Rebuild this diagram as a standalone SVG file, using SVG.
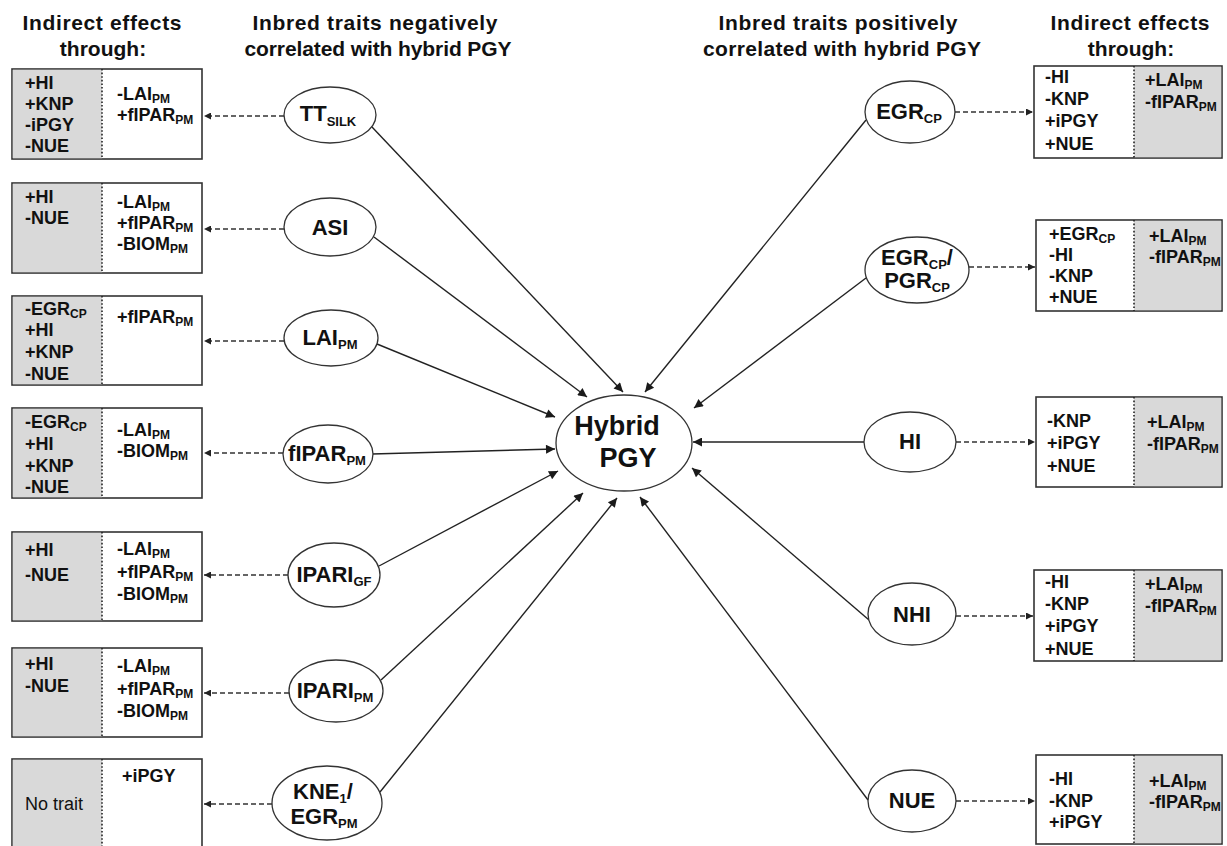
<svg xmlns="http://www.w3.org/2000/svg" width="1227" height="846" viewBox="0 0 1227 846">
<style>
text{font-family:"Liberation Sans",Arial,sans-serif;font-weight:bold;fill:#111}
.h{font-size:21px}
.t{font-size:18px}
.s{font-size:12px}
.r{font-weight:normal}
.nt{font-size:22px;text-anchor:middle}
.ns{font-size:13px}
.box{fill:#fff;stroke:#333;stroke-width:1.6}
.g{fill:#d9d9d9}
.dv{stroke:#222;stroke-width:1.6;stroke-dasharray:1.6,2}
.el{fill:#fff;stroke:#333;stroke-width:1.3}
.ln{stroke:#222;stroke-width:1.4;fill:none;marker-end:url(#ah)}
.ds{stroke:#333;stroke-width:1.5;fill:none;stroke-dasharray:5,3;marker-end:url(#ah2)}
</style>
<defs>
<marker id="ah" viewBox="0 0 10 10" refX="10" refY="5" markerWidth="12" markerHeight="9" markerUnits="userSpaceOnUse" orient="auto"><path d="M0,0L10,5L0,10z" fill="#1a1a1a"/></marker>
<marker id="ah2" viewBox="0 0 10 10" refX="10" refY="5" markerWidth="8" markerHeight="7" markerUnits="userSpaceOnUse" orient="auto"><path d="M0,0L10,5L0,10z" fill="#222"/></marker>
</defs>
<rect width="1227" height="846" fill="#fff"/>

<g id="headers">
<text class="h" x="102" y="30" text-anchor="middle" textLength="159">Indirect effects</text>
<text class="h" x="103" y="56" text-anchor="middle">through:</text>
<text class="h" x="375" y="30" text-anchor="middle" textLength="245">Inbred traits negatively</text>
<text class="h" x="378" y="56" text-anchor="middle" textLength="267">correlated with hybrid PGY</text>
<text class="h" x="838" y="30" text-anchor="middle" textLength="239">Inbred traits positively</text>
<text class="h" x="842" y="56" text-anchor="middle" textLength="278">correlated with hybrid PGY</text>
<text class="h" x="1130" y="30" text-anchor="middle" textLength="159">Indirect effects</text>
<text class="h" x="1131" y="56" text-anchor="middle">through:</text>
</g>

<g id="connectors">
<line class="ln" x1="372" y1="127" x2="623" y2="392"/>
<line class="ln" x1="374" y1="237" x2="587" y2="397"/>
<line class="ln" x1="377" y1="344" x2="555" y2="417"/>
<line class="ln" x1="372" y1="454" x2="555" y2="449"/>
<line class="ln" x1="379" y1="566" x2="558" y2="471"/>
<line class="ln" x1="381" y1="680" x2="583" y2="493"/>
<line class="ln" x1="380" y1="792" x2="617" y2="498"/>
<line class="ln" x1="866" y1="120" x2="645" y2="392"/>
<line class="ln" x1="866" y1="278" x2="694" y2="408"/>
<line class="ln" x1="864" y1="442" x2="693" y2="442"/>
<line class="ln" x1="869" y1="620" x2="692" y2="468"/>
<line class="ln" x1="868" y1="800" x2="640" y2="497"/>
<line class="ds" x1="284" y1="116" x2="204" y2="116"/>
<line class="ds" x1="284" y1="229" x2="204" y2="229"/>
<line class="ds" x1="284" y1="341" x2="204" y2="341"/>
<line class="ds" x1="283" y1="453" x2="204" y2="453"/>
<line class="ds" x1="288" y1="575" x2="204" y2="575"/>
<line class="ds" x1="289" y1="693" x2="204" y2="693"/>
<line class="ds" x1="272" y1="804" x2="204" y2="804"/>
<line class="ds" x1="955" y1="112" x2="1033" y2="112"/>
<line class="ds" x1="969" y1="267" x2="1035" y2="267"/>
<line class="ds" x1="956" y1="442" x2="1035" y2="442"/>
<line class="ds" x1="956" y1="616" x2="1033" y2="616"/>
<line class="ds" x1="956" y1="801" x2="1035" y2="801"/>
</g>

<g id="hybrid">
<ellipse class="el" cx="624" cy="443" rx="68" ry="48"/>
<text x="617" y="435" font-size="27" text-anchor="middle">Hybrid</text>
<text x="628" y="467" font-size="27" text-anchor="middle">PGY</text>
</g>

<g id="n-ttsilk"><ellipse class="el" cx="330" cy="115" rx="46" ry="28"/><text class="nt" x="328" y="121">TT<tspan class="ns" dy="5">SILK</tspan></text></g>
<g id="n-asi"><ellipse class="el" cx="330" cy="227" rx="46" ry="29"/><text class="nt" x="330" y="235">ASI</text></g>
<g id="n-lai"><ellipse class="el" cx="331" cy="338" rx="47" ry="28"/><text class="nt" x="330" y="345">LAI<tspan class="ns" dy="4">PM</tspan></text></g>
<g id="n-fipar"><ellipse class="el" cx="328" cy="454" rx="45" ry="29"/><text class="nt" x="327" y="461">fIPAR<tspan class="ns" dy="4">PM</tspan></text></g>
<g id="n-iparigf"><ellipse class="el" cx="334" cy="575" rx="46" ry="32"/><text class="nt" x="334" y="582">IPARI<tspan class="ns" dy="4">GF</tspan></text></g>
<g id="n-iparipm"><ellipse class="el" cx="336" cy="691" rx="47" ry="31"/><text class="nt" x="335" y="698">IPARI<tspan class="ns" dy="4">PM</tspan></text></g>
<g id="n-kne"><ellipse class="el" cx="327" cy="803" rx="55" ry="37"/><text class="nt" x="323" y="799">KNE<tspan class="ns" dy="4">1</tspan><tspan dy="-4">/</tspan></text><text class="nt" x="324" y="824">EGR<tspan class="ns" dy="4">PM</tspan></text></g>

<g id="n-egrcp"><ellipse class="el" cx="910" cy="112" rx="45" ry="31"/><text class="nt" x="909" y="119">EGR<tspan class="ns" dy="4">CP</tspan></text></g>
<g id="n-egrpgr"><ellipse class="el" cx="917" cy="270" rx="52" ry="33"/><text class="nt" x="917" y="265">EGR<tspan class="ns" dy="4">CP</tspan><tspan dy="-4">/</tspan></text><text class="nt" x="917" y="288">PGR<tspan class="ns" dy="4">CP</tspan></text></g>
<g id="n-hi"><ellipse class="el" cx="910" cy="442" rx="46" ry="30"/><text class="nt" x="910" y="449">HI</text></g>
<g id="n-nhi"><ellipse class="el" cx="912" cy="614" rx="44" ry="31"/><text class="nt" x="912" y="622">NHI</text></g>
<g id="n-nue"><ellipse class="el" cx="912" cy="801" rx="44" ry="31"/><text class="nt" x="912" y="808">NUE</text></g>

<g id="b-ttsilk">
<rect class="box" x="12" y="69" width="190" height="90"/><rect class="g" x="12.8" y="69.8" width="89.2" height="88.4"/><line class="dv" x1="102" y1="69" x2="102" y2="159"/>
<text class="t" x="25" y="89">+HI</text><text class="t" x="25" y="110">+KNP</text><text class="t" x="25" y="131">-iPGY</text><text class="t" x="25" y="152">-NUE</text>
<text class="t" x="117" y="100">-LAI<tspan class="s" dy="3">PM</tspan></text><text class="t" x="117" y="121">+fIPAR<tspan class="s" dy="3">PM</tspan></text>
</g>
<g id="b-asi">
<rect class="box" x="12" y="183" width="190" height="90"/><rect class="g" x="12.8" y="183.8" width="89.2" height="88.4"/><line class="dv" x1="102" y1="183" x2="102" y2="273"/>
<text class="t" x="25" y="203">+HI</text><text class="t" x="25" y="224">-NUE</text>
<text class="t" x="117" y="208">-LAI<tspan class="s" dy="3">PM</tspan></text><text class="t" x="117" y="229">+fIPAR<tspan class="s" dy="3">PM</tspan></text><text class="t" x="117" y="250">-BIOM<tspan class="s" dy="3">PM</tspan></text>
</g>
<g id="b-lai">
<rect class="box" x="12" y="296" width="190" height="89"/><rect class="g" x="12.8" y="296.8" width="89.2" height="87.4"/><line class="dv" x1="102" y1="296" x2="102" y2="385"/>
<text class="t" x="25" y="315">-EGR<tspan class="s" dy="3">CP</tspan></text><text class="t" x="25" y="336">+HI</text><text class="t" x="25" y="358">+KNP</text><text class="t" x="25" y="380">-NUE</text>
<text class="t" x="117" y="323">+fIPAR<tspan class="s" dy="3">PM</tspan></text>
</g>
<g id="b-fipar">
<rect class="box" x="12" y="408" width="190" height="90"/><rect class="g" x="12.8" y="408.8" width="89.2" height="88.4"/><line class="dv" x1="102" y1="408" x2="102" y2="498"/>
<text class="t" x="25" y="428">-EGR<tspan class="s" dy="3">CP</tspan></text><text class="t" x="25" y="450">+HI</text><text class="t" x="25" y="472">+KNP</text><text class="t" x="25" y="493">-NUE</text>
<text class="t" x="117" y="436">-LAI<tspan class="s" dy="3">PM</tspan></text><text class="t" x="117" y="457">-BIOM<tspan class="s" dy="3">PM</tspan></text>
</g>
<g id="b-iparigf">
<rect class="box" x="12" y="532" width="190" height="89"/><rect class="g" x="12.8" y="532.8" width="89.2" height="87.4"/><line class="dv" x1="102" y1="532" x2="102" y2="621"/>
<text class="t" x="25" y="556">+HI</text><text class="t" x="25" y="581">-NUE</text>
<text class="t" x="117" y="555">-LAI<tspan class="s" dy="3">PM</tspan></text><text class="t" x="117" y="578">+fIPAR<tspan class="s" dy="3">PM</tspan></text><text class="t" x="117" y="600">-BIOM<tspan class="s" dy="3">PM</tspan></text>
</g>
<g id="b-iparipm">
<rect class="box" x="12" y="648" width="190" height="89"/><rect class="g" x="12.8" y="648.8" width="89.2" height="87.4"/><line class="dv" x1="102" y1="648" x2="102" y2="737"/>
<text class="t" x="25" y="670">+HI</text><text class="t" x="25" y="692">-NUE</text>
<text class="t" x="117" y="672">-LAI<tspan class="s" dy="3">PM</tspan></text><text class="t" x="117" y="695">+fIPAR<tspan class="s" dy="3">PM</tspan></text><text class="t" x="117" y="717">-BIOM<tspan class="s" dy="3">PM</tspan></text>
</g>
<g id="b-kne">
<rect class="box" x="12" y="759" width="190" height="100"/><rect class="g" x="12.8" y="759.8" width="89.2" height="98"/><line class="dv" x1="102" y1="759" x2="102" y2="846"/>
<text class="t r" x="25" y="810">No trait</text>
<text class="t" x="122" y="782">+iPGY</text>
</g>

<g id="b-egrcp">
<rect class="box" x="1034" y="66" width="188" height="92"/><rect class="g" x="1134" y="66.8" width="87.2" height="90.4"/><line class="dv" x1="1134" y1="66" x2="1134" y2="158"/>
<text class="t" x="1045" y="83">-HI</text><text class="t" x="1045" y="105">-KNP</text><text class="t" x="1045" y="127">+iPGY</text><text class="t" x="1045" y="150">+NUE</text>
<text class="t" x="1145" y="86">+LAI<tspan class="s" dy="3">PM</tspan></text><text class="t" x="1145" y="108">-fIPAR<tspan class="s" dy="3">PM</tspan></text>
</g>
<g id="b-egrpgr">
<rect class="box" x="1036" y="220" width="186" height="91"/><rect class="g" x="1134" y="220.8" width="87.2" height="89.4"/><line class="dv" x1="1134" y1="220" x2="1134" y2="311"/>
<text class="t" x="1049" y="240">+EGR<tspan class="s" dy="3">CP</tspan></text><text class="t" x="1049" y="261">-HI</text><text class="t" x="1049" y="282">-KNP</text><text class="t" x="1049" y="303">+NUE</text>
<text class="t" x="1149" y="242">+LAI<tspan class="s" dy="3">PM</tspan></text><text class="t" x="1149" y="263">-fIPAR<tspan class="s" dy="3">PM</tspan></text>
</g>
<g id="b-hi">
<rect class="box" x="1036" y="397" width="186" height="90"/><rect class="g" x="1134" y="397.8" width="87.2" height="88.4"/><line class="dv" x1="1134" y1="397" x2="1134" y2="487"/>
<text class="t" x="1047" y="427">-KNP</text><text class="t" x="1047" y="449">+iPGY</text><text class="t" x="1047" y="472">+NUE</text>
<text class="t" x="1147" y="428">+LAI<tspan class="s" dy="3">PM</tspan></text><text class="t" x="1147" y="450">-fIPAR<tspan class="s" dy="3">PM</tspan></text>
</g>
<g id="b-nhi">
<rect class="box" x="1034" y="570" width="188" height="91"/><rect class="g" x="1134" y="570.8" width="87.2" height="89.4"/><line class="dv" x1="1134" y1="570" x2="1134" y2="661"/>
<text class="t" x="1045" y="588">-HI</text><text class="t" x="1045" y="610">-KNP</text><text class="t" x="1045" y="632">+iPGY</text><text class="t" x="1045" y="655">+NUE</text>
<text class="t" x="1145" y="590">+LAI<tspan class="s" dy="3">PM</tspan></text><text class="t" x="1145" y="612">-fIPAR<tspan class="s" dy="3">PM</tspan></text>
</g>
<g id="b-nue">
<rect class="box" x="1036" y="755" width="186" height="89"/><rect class="g" x="1134" y="755.8" width="87.2" height="87.4"/><line class="dv" x1="1134" y1="755" x2="1134" y2="844"/>
<text class="t" x="1049" y="785">-HI</text><text class="t" x="1049" y="807">-KNP</text><text class="t" x="1049" y="828">+iPGY</text>
<text class="t" x="1149" y="787">+LAI<tspan class="s" dy="3">PM</tspan></text><text class="t" x="1149" y="808">-fIPAR<tspan class="s" dy="3">PM</tspan></text>
</g>
</svg>
